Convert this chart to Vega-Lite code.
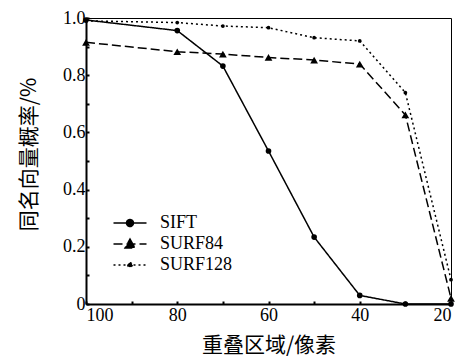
{
  "$schema": "https://vega.github.io/schema/vega-lite/v6.json",
  "autosize": {"type": "none"},
  "padding": {"left": 86, "top": 18, "right": 15, "bottom": 53},
  "width": 365,
  "height": 286,
  "background": "white",
  "config": {
    "view": {"stroke": "black", "strokeWidth": 1},
    "font": "Times New Roman, Liberation Serif, serif",
    "axis": {"grid": false, "domainColor": "black", "domainWidth": 2, "tickColor": "black", "labelColor": "black", "titleColor": "black", "labelFont": "Times New Roman, Liberation Serif, serif", "labelFontSize": 18, "titleFontWeight": "normal"}
  },
  "data": {"values": [
    {"series": "SIFT", "x": 100, "y": 0.993},
    {"series": "SIFT", "x": 80, "y": 0.956},
    {"series": "SIFT", "x": 70, "y": 0.832},
    {"series": "SIFT", "x": 60, "y": 0.535},
    {"series": "SIFT", "x": 50, "y": 0.234},
    {"series": "SIFT", "x": 40, "y": 0.03},
    {"series": "SIFT", "x": 30, "y": 0.0},
    {"series": "SIFT", "x": 20, "y": 0.0},
    {"series": "SURF84", "x": 100, "y": 0.915},
    {"series": "SURF84", "x": 80, "y": 0.882},
    {"series": "SURF84", "x": 70, "y": 0.874},
    {"series": "SURF84", "x": 60, "y": 0.862},
    {"series": "SURF84", "x": 50, "y": 0.853},
    {"series": "SURF84", "x": 40, "y": 0.839},
    {"series": "SURF84", "x": 30, "y": 0.661},
    {"series": "SURF84", "x": 20, "y": 0.02},
    {"series": "SURF128", "x": 100, "y": 0.99},
    {"series": "SURF128", "x": 80, "y": 0.984},
    {"series": "SURF128", "x": 70, "y": 0.972},
    {"series": "SURF128", "x": 60, "y": 0.966},
    {"series": "SURF128", "x": 50, "y": 0.931},
    {"series": "SURF128", "x": 40, "y": 0.92},
    {"series": "SURF128", "x": 30, "y": 0.739},
    {"series": "SURF128", "x": 20, "y": 0.085}
  ]},
  "encoding": {
    "x": {"field": "x", "type": "quantitative",
      "scale": {"domain": [100, 20], "nice": false, "zero": false},
      "axis": {"values": [100, 90, 80, 70, 60, 50, 40, 30, 20], "labelExpr": "datum.value % 20 == 0 ? datum.label : ''", "tickSize": -3, "tickWidth": 2, "labelPadding": 5, "title": "重叠区域/像素", "titleFont": "Noto Sans CJK SC", "titleFontSize": 21, "titlePadding": 10, "format": "d"}},
    "y": {"field": "y", "type": "quantitative",
      "scale": {"domain": [0, 1], "nice": false},
      "axis": {"values": [0, 0.1, 0.2, 0.3, 0.4, 0.5, 0.6, 0.7, 0.8, 0.9, 1.0], "labelExpr": "datum.value == 0 ? '0' : (round(datum.value * 10) % 2 == 0 ? format(datum.value, '.1f') : '')", "tickSize": -3, "tickWidth": 2, "labelPadding": 4, "title": "同名向量概率/%", "titleFont": "Noto Sans CJK SC", "titleFontSize": 21, "titlePadding": 23, "titleY": 136}},
    "color": {"value": "black"}
  },
  "layer": [
    {
      "mark": {"type": "line", "strokeWidth": 1.5},
      "encoding": {
        "strokeDash": {"field": "series", "type": "nominal",
          "scale": {"domain": ["SIFT", "SURF84", "SURF128"], "range": [[1, 0], [9, 4], [2, 3]]},
          "legend": {"title": null, "orient": "none", "legendX": 33, "legendY": 194, "labelFont": "Times New Roman, Liberation Serif, serif", "labelFontSize": 18, "labelColor": "black", "symbolSize": 400, "rowPadding": 1, "labelOffset": 19,
            "symbolType": {"expr": "datum.value == 'SIFT' ? 'M-1.65,0H1.65M0.35,0A0.35,0.35 0 1,1 -0.35,0A0.35,0.35 0 1,1 0.35,0Z' : datum.value == 'SURF84' ? 'M-1.65,0H1.65M0,-0.5L0.5,0.4L-0.5,0.4Z' : 'M-1.65,0H1.65M0.22,0A0.22,0.22 0 1,1 -0.22,0A0.22,0.22 0 1,1 0.22,0Z'"},
            "symbolFillColor": "black", "symbolStrokeColor": "black", "symbolStrokeWidth": 1.5,
            "encoding": {"symbols": {
              "fill": {"value": "black"},
              "stroke": {"value": "black"},
              "opacity": {"value": 1}
            }}}}
      }
    },
    {
      "mark": {"type": "point", "filled": true, "opacity": 1},
      "encoding": {
        "shape": {"condition": {"test": "datum.series == 'SURF84'", "value": "triangle-up"}, "value": "circle"},
        "size": {"condition": [{"test": "datum.series == 'SURF84'", "value": 60}, {"test": "datum.series == 'SURF128'", "value": 14}], "value": 32}
      }
    }
  ]
}
